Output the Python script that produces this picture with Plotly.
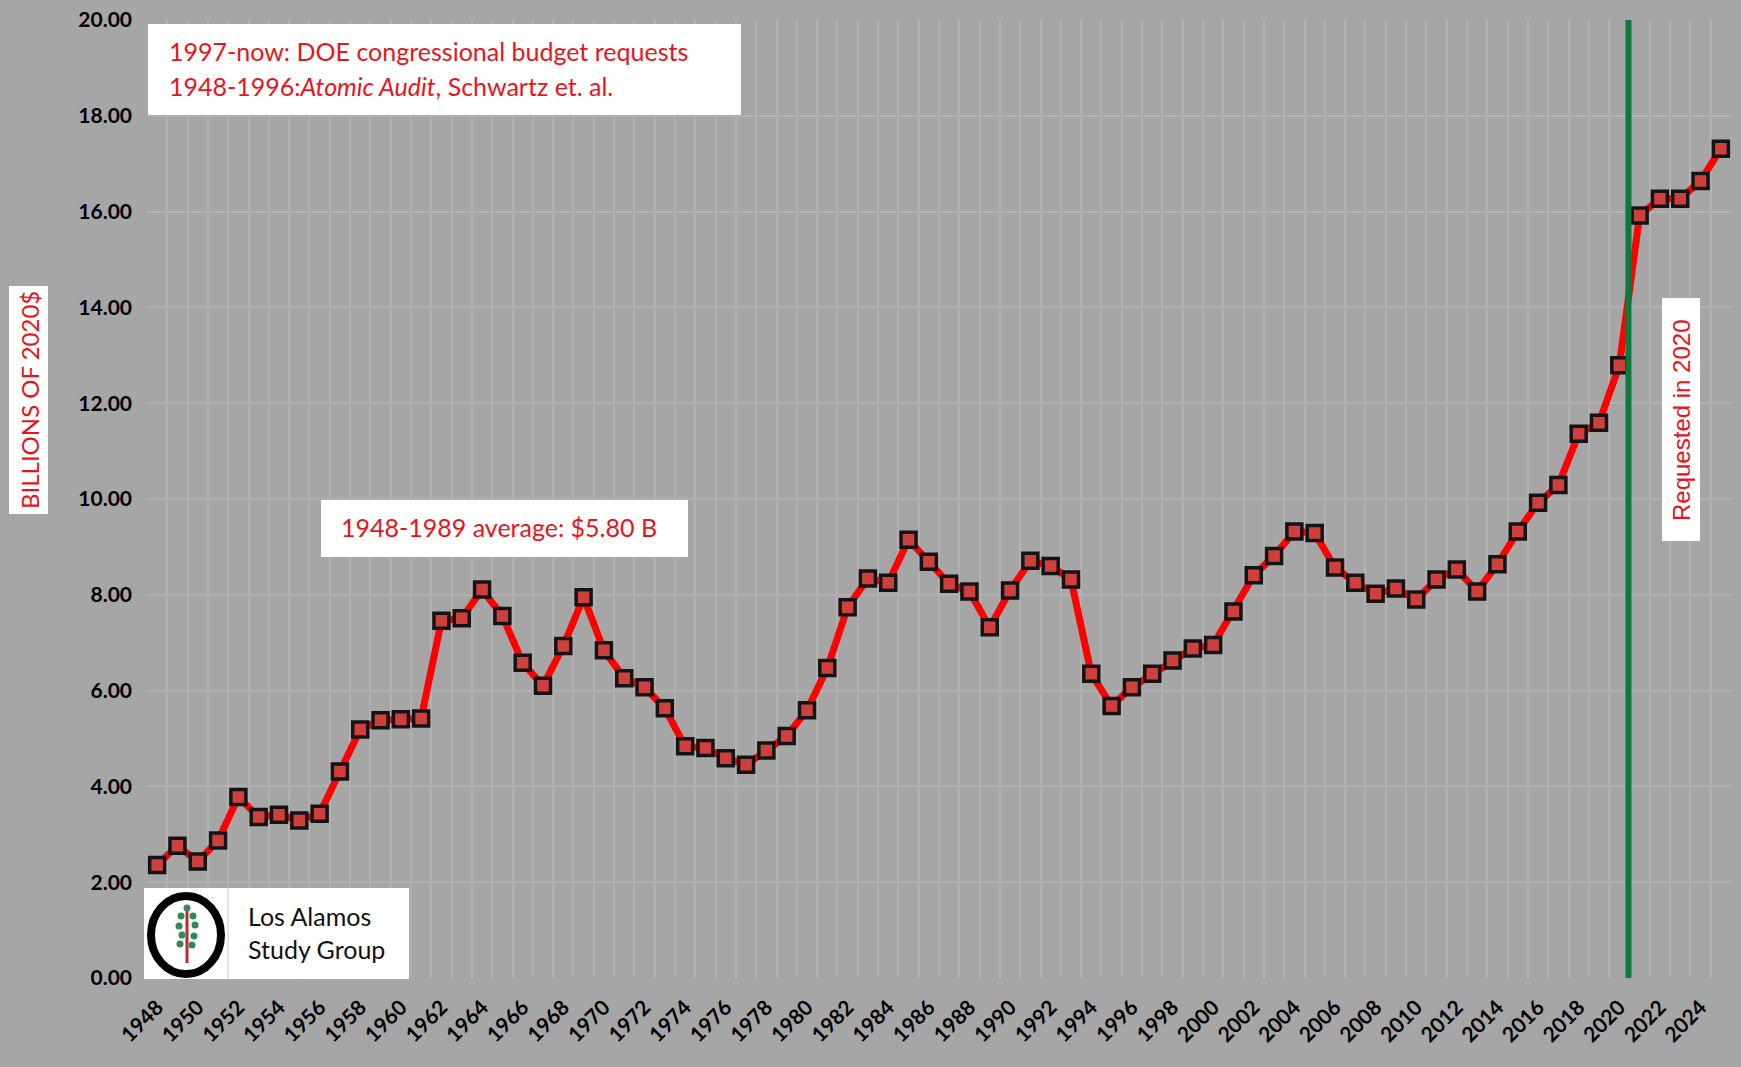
import plotly.graph_objects as go

# ---- data (billions of 2020 $) ----
years = list(range(1948, 2026))
values = [
    2.36, 2.76, 2.43, 2.87, 3.78, 3.36, 3.41, 3.29, 3.43, 4.31,   # 1948-1957
    5.19, 5.38, 5.40, 5.42, 7.46, 7.51, 8.11, 7.56, 6.58, 6.10,   # 1958-1967
    6.93, 7.95, 6.84, 6.26, 6.07, 5.63, 4.84, 4.80, 4.59, 4.45,   # 1968-1977
    4.75, 5.05, 5.59, 6.47, 7.74, 8.34, 8.25, 9.15, 8.69, 8.23,   # 1978-1987
    8.07, 7.32, 8.09, 8.71, 8.60, 8.32, 6.35, 5.68, 6.07, 6.35,   # 1988-1997
    6.63, 6.88, 6.95, 7.65, 8.41, 8.81, 9.32, 9.29, 8.57, 8.25,   # 1998-2007
    8.02, 8.13, 7.90, 8.32, 8.53, 8.07, 8.64, 9.32, 9.92, 10.29,  # 2008-2017
    11.36, 11.59, 12.79, 15.92, 16.27, 16.27, 16.64, 17.31,       # 2018-2025
]
x_tick_years = list(range(1948, 2025, 2))
y_ticks = list(range(0, 21, 2))
requested_year = 2020.45

# ---- geometry helpers (pixel -> paper) ----
W, H = 1741, 1067
PL, PR, PT, PB = 147, 1731, 20, 978
def px(x):
    return (x - PL) / (PR - PL)
def py(y):
    return (PB - y) / (PB - PT)

BG = "#a6a6a6"
GRID = "#b1b1b1"
RED_TXT = "#e8141c"
FONT = "Lato"

fig = go.Figure()
fig.add_trace(go.Scatter(
    x=years, y=values, mode="lines+markers",
    line=dict(color="#ff0000", width=7),
    marker=dict(symbol="square", size=15, color="#cf3f3c",
                line=dict(color="#141414", width=3.5)),
    hoverinfo="x+y", showlegend=False,
))

shapes = []
# green "requested" line
shapes.append(dict(type="line", xref="x", yref="y", x0=requested_year, x1=requested_year,
                   y0=0, y1=20, line=dict(color="#0b7a3b", width=6), layer="above"))

def box(x0, y0, x1, y1):
    return dict(type="rect", xref="paper", yref="paper",
                x0=px(x0), x1=px(x1), y0=py(y1), y1=py(y0),
                fillcolor="white", line=dict(width=0), layer="above")

shapes.append(box(148, 24, 741, 115))      # sources box
shapes.append(box(321, 500, 688, 557))     # average box
shapes.append(box(144, 888, 409, 979))     # logo box
shapes.append(box(9, 286, 48, 514))        # y title box
shapes.append(box(1662, 298, 1700, 541))   # requested box
# logo separator
shapes.append(dict(type="line", xref="paper", yref="paper", x0=px(228), x1=px(228),
                   y0=py(979), y1=py(888), line=dict(color="#c8c8c8", width=1), layer="above"))
# logo: ring + tree
shapes.append(dict(type="circle", xref="paper", yref="paper",
                   x0=px(151), x1=px(221), y0=py(974), y1=py(896),
                   line=dict(color="black", width=8), fillcolor="white", layer="above"))
shapes.append(dict(type="line", xref="paper", yref="paper", x0=px(187), x1=px(187),
                   y0=py(963), y1=py(906), line=dict(color="#c0282a", width=3), layer="above"))
for (cx, cy) in [(187, 908), (181, 916), (193, 916), (179, 926), (195, 925),
                 (182, 935), (194, 936), (180, 944), (192, 945)]:
    shapes.append(dict(type="circle", xref="paper", yref="paper",
                       x0=px(cx - 3.5), x1=px(cx + 3.5), y0=py(cy + 3.5), y1=py(cy - 3.5),
                       line=dict(width=0), fillcolor="#2e8b57", layer="above"))

annotations = [
    dict(xref="paper", yref="paper", x=px(167), y=py(51), xanchor="left", yanchor="middle",
         text="1997-now: DOE congressional budget requests", showarrow=False,
         font=dict(family=FONT, size=25, color=RED_TXT)),
    dict(xref="paper", yref="paper", x=px(167), y=py(86), xanchor="left", yanchor="middle",
         text="1948-1996:<i>Atomic Audit</i>, Schwartz et. al.", showarrow=False,
         font=dict(family=FONT, size=25, color=RED_TXT)),
    dict(xref="paper", yref="paper", x=px(339), y=py(527), xanchor="left", yanchor="middle",
         text="1948-1989 average: $5.80 B", showarrow=False,
         font=dict(family=FONT, size=25, color=RED_TXT)),
    dict(xref="paper", yref="paper", x=px(246), y=py(916), xanchor="left", yanchor="middle",
         text="Los Alamos", showarrow=False,
         font=dict(family=FONT, size=25, color="#111111")),
    dict(xref="paper", yref="paper", x=px(246), y=py(949), xanchor="left", yanchor="middle",
         text="Study Group", showarrow=False,
         font=dict(family=FONT, size=25, color="#111111")),
    dict(xref="paper", yref="paper", x=px(29), y=py(400), xanchor="center", yanchor="middle",
         text="BILLIONS OF 2020$", textangle=-90, showarrow=False,
         font=dict(family=FONT, size=24, color=RED_TXT)),
    dict(xref="paper", yref="paper", x=px(1681), y=py(420), xanchor="center", yanchor="middle",
         text="Requested in 2020", textangle=-90, showarrow=False,
         font=dict(family="Liberation Sans", size=24, color=RED_TXT)),
]

fig.update_layout(
    width=W, height=H,
    margin=dict(l=PL, r=W - PR, t=PT, b=H - PB, autoexpand=False),
    paper_bgcolor=BG, plot_bgcolor=BG,
    shapes=shapes, annotations=annotations,
    xaxis=dict(range=[1947.5, 2025.5], tickmode="array", tickvals=x_tick_years,
               ticktext=[str(y) for y in x_tick_years], tickangle=-45,
               showgrid=False, zeroline=False, showline=False, ticks="",
               ticklabelstandoff=12,
               tickfont=dict(family=FONT, size=21, color="black", weight="bold"),
               minor=dict(tick0=1947.5, dtick=1, showgrid=True, gridcolor=GRID, gridwidth=2)),
    yaxis=dict(range=[0, 20], tickmode="array", tickvals=y_ticks, tickformat=".2f",
               showgrid=True, gridcolor=GRID, gridwidth=2, zeroline=False,
               showline=False, ticks="", ticklabelstandoff=14,
               tickfont=dict(family=FONT, size=21, color="black", weight="bold")),
)

fig.write_html("out.html", config={"displayModeBar": False},
               post_script="document.body.style.margin='0';document.body.style.background='%s';" % BG)
